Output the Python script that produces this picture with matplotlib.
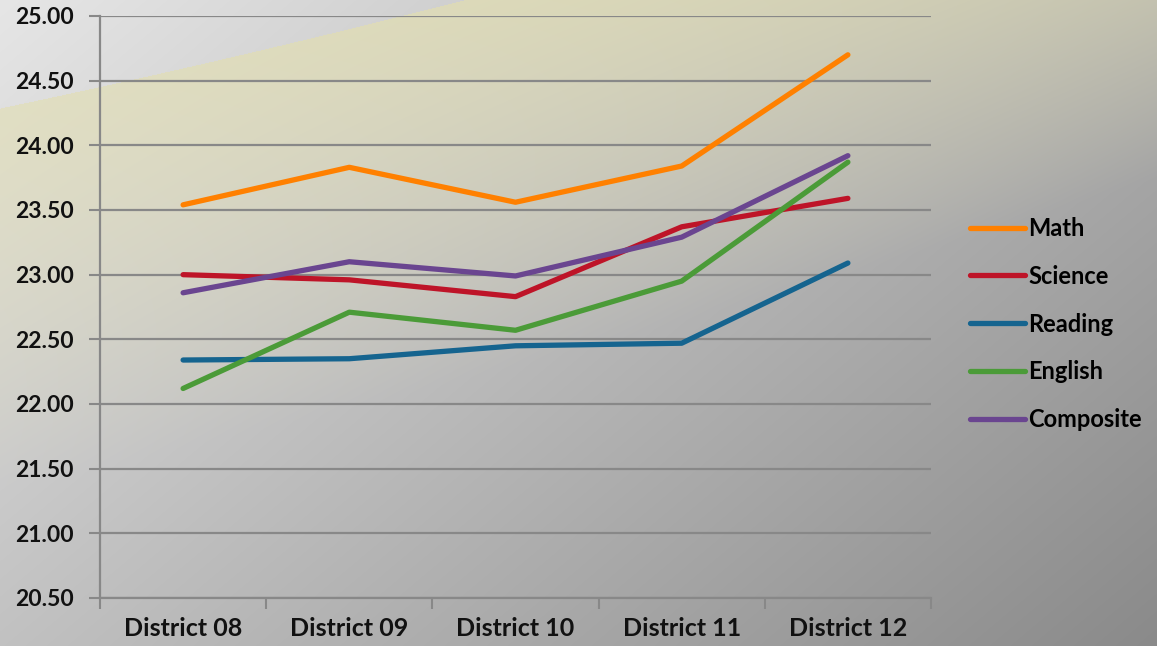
import numpy as np
import matplotlib.pyplot as plt

# data
districts = ['District 08', 'District 09', 'District 10', 'District 11', 'District 12']
math = [23.54, 23.83, 23.56, 23.84, 24.70]
science = [23.00, 22.96, 22.83, 23.37, 23.59]
reading = [22.34, 22.35, 22.45, 22.47, 23.09]
english = [22.12, 22.71, 22.57, 22.95, 23.87]
composite = [22.86, 23.10, 22.99, 23.29, 23.92]
y_ticks = [20.5, 21.0, 21.5, 22.0, 22.5, 23.0, 23.5, 24.0, 24.5, 25.0]

series = [('Math', math, '#ff8000'),
          ('Science', science, '#be1428'),
          ('Reading', reading, '#15648f'),
          ('English', english, '#4b9b38'),
          ('Composite', composite, '#6a4590')]

W, H = 1157, 646
fig = plt.figure(figsize=(W / 100, H / 100), dpi=100)

# background: diagonal gray gradient with a beige swoosh at the top
yy, xx = np.mgrid[0:H, 0:W].astype(float)
t = (xx / W * 0.6 + yy / H * 0.4)
base = 230 - 92 * t
img = np.stack([base, base, base], axis=-1)
curve = 108 - 0.21 * xx - 0.00005 * xx ** 2
below = yy > curve
fade = np.clip(1 - (yy - curve) / 380, 0, 1) * below
fade = fade * np.clip(0.6 + 0.25 * xx / W, 0, 1)
beige = np.array([226, 222, 176], dtype=float)
img = img * (1 - fade[..., None]) + beige * fade[..., None]
bg = fig.add_axes([0, 0, 1, 1])
bg.imshow(img.astype(np.uint8), aspect='auto', interpolation='bilinear')
bg.axis('off')

ax = fig.add_axes([100 / W, 48 / H, 831 / W, 582 / H])
ax.patch.set_alpha(0)
x = np.arange(len(districts))
for name, vals, col in series:
    ax.plot(x, vals, color=col, lw=3.8, label=name, solid_capstyle='round',
            solid_joinstyle='round')

ax.set_xlim(-0.5, len(districts) - 0.5)
ax.set_ylim(20.5, 25.0)
ax.set_yticks(y_ticks)
ax.set_yticklabels([f'{v:.2f}' for v in y_ticks])
ax.set_xticks(np.arange(-0.5, len(districts), 1.0))
ax.set_xticklabels([])
ax.set_xticks(x, minor=True)
ax.set_xticklabels(districts, minor=True)
ax.tick_params(axis='x', which='minor', length=0, pad=14)
ax.tick_params(axis='x', which='major', length=8, width=1.5, color='#888888')
ax.tick_params(axis='y', length=8, width=1.5, color='#888888', pad=11)
for lbl in ax.get_xticklabels(minor=True):
    lbl.set_fontfamily('Lato')
    lbl.set_fontweight('bold')
    lbl.set_fontsize(18)
    lbl.set_color('#111111')
for lbl in ax.get_yticklabels():
    lbl.set_fontfamily('Lato')
    lbl.set_fontweight('bold')
    lbl.set_fontsize(16.5)
    lbl.set_color('#111111')
ax.grid(axis='y', color='#888888', lw=1.6)
ax.set_axisbelow(True)
for s in ['top', 'right']:
    ax.spines[s].set_visible(False)
for s in ['left', 'bottom']:
    ax.spines[s].set_color('#888888')
    ax.spines[s].set_linewidth(1.6)

fig.legend(loc='center left', bbox_to_anchor=(949 / W, 1 - 324 / H), frameon=False,
           handlelength=2.3, handletextpad=0.15, labelspacing=1.05,
           prop={'family': 'Lato', 'weight': 'bold', 'size': 17})

fig.savefig('out.png', dpi=100)
